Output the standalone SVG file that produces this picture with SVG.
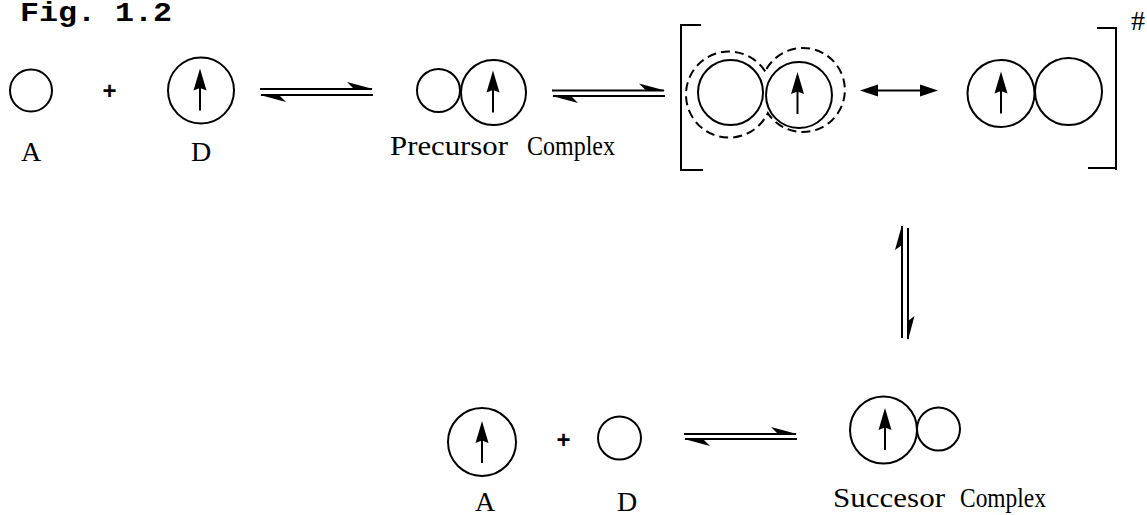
<svg xmlns="http://www.w3.org/2000/svg" xmlns:xlink="http://www.w3.org/1999/xlink" width="1147" height="515" viewBox="0 0 1147 515">
  <style>
    .mol { fill: none; stroke: #000; stroke-width: 2; }
    .shell { fill: none; stroke: #000; stroke-width: 2; stroke-dasharray: 9 5; }
    .line { fill: none; stroke: #000; stroke-width: 2; }
    .barb { fill: #000; stroke: none; }
    .lbl { font-family: "Liberation Serif", "Times New Roman", serif; font-size: 28px; fill: #000; }
    .plus { font-family: "Liberation Sans", Arial, sans-serif; font-weight: bold; font-size: 24px; fill: #000; text-anchor: middle; }
    .title { font-family: "Liberation Mono", "Courier New", monospace; font-weight: bold; font-size: 28px; fill: #000; }
  </style>
  <defs>
    <!-- spin arrow drawn inside a molecule, origin at the circle centre -->
    <g id="spin">
      <line x1="0" y1="-3" x2="0" y2="20" stroke="#000" stroke-width="2"/>
      <path d="M0,-22 L-6.5,0 L0,-2.5 L6.5,0 Z" fill="#000"/>
    </g>
  </defs>

  <rect width="1147" height="515" fill="#fff"/>

  <text id="title" class="title" x="20" y="21" textLength="152" lengthAdjust="spacingAndGlyphs">Fig. 1.2</text>

  <!-- reactants -->
  <g id="acceptor-1">
    <circle class="mol" cx="31" cy="90.5" r="21"/>
    <text class="lbl" x="31" y="161" text-anchor="middle">A</text>
  </g>
  <text id="plus-1" class="plus" x="109.5" y="99">+</text>
  <g id="donor-1">
    <circle class="mol" cx="201" cy="90.5" r="33"/>
    <use xlink:href="#spin" x="200" y="90.5"/>
    <text class="lbl" x="201" y="161" text-anchor="middle">D</text>
  </g>

  <!-- precursor complex -->
  <g id="precursor">
    <circle class="mol" cx="438.5" cy="90.5" r="21.5"/>
    <circle class="mol" cx="493.5" cy="92.5" r="32.5"/>
    <use xlink:href="#spin" x="493" y="92.5"/>
    <text class="lbl" y="155"><tspan x="390" textLength="118" lengthAdjust="spacingAndGlyphs">Precursor</tspan><tspan x="527" textLength="88" lengthAdjust="spacingAndGlyphs">Complex</tspan></text>
  </g>

  <!-- transition state -->
  <g id="transition-state">
    <path class="line" d="M701,25 H681 V170 H703"/>
    <path class="line" d="M1097,28 H1116 V170 M1116,168 H1088"/>
    <text x="1131" y="30" font-family="Liberation Serif, serif" font-size="28">#</text>
    <path class="shell" d="M765.2,71.4 A43,43 0 1 0 767.8,113.1 A42,42 0 1 0 765.2,71.4 Z"/>
    <circle class="mol" cx="730.5" cy="92.5" r="32.5"/>
    <circle class="mol" cx="799" cy="95" r="33"/>
    <use xlink:href="#spin" x="797.5" y="94"/>
    <circle class="mol" cx="1001" cy="93.5" r="33.5"/>
    <use xlink:href="#spin" x="1001" y="93.5"/>
    <circle class="mol" cx="1068.5" cy="91.5" r="33.5"/>
  </g>

  <!-- successor complex -->
  <g id="successor">
    <circle class="mol" cx="883.5" cy="430" r="33.5"/>
    <use xlink:href="#spin" x="885" y="430"/>
    <circle class="mol" cx="938.5" cy="429" r="21.5"/>
    <text class="lbl" y="507"><tspan x="833" textLength="112" lengthAdjust="spacingAndGlyphs">Succesor</tspan><tspan x="960" textLength="86" lengthAdjust="spacingAndGlyphs">Complex</tspan></text>
  </g>

  <!-- products -->
  <g id="acceptor-2">
    <circle class="mol" cx="482" cy="442" r="34"/>
    <use xlink:href="#spin" x="482" y="443"/>
    <text class="lbl" x="485" y="511" text-anchor="middle">A</text>
  </g>
  <text id="plus-2" class="plus" x="563.5" y="448">+</text>
  <g id="donor-2">
    <circle class="mol" cx="619.5" cy="438" r="21.5"/>
    <text class="lbl" x="627" y="511" text-anchor="middle">D</text>
  </g>

  <!-- equilibrium and resonance arrows -->
  <g id="connectors">
    <line class="line" x1="260" y1="89" x2="372" y2="89"/>
    <polygon class="barb" points="373,89 347,82 354,89"/>
    <line class="line" x1="261" y1="95" x2="373" y2="95"/>
    <polygon class="barb" points="260,95 286,102 279,95"/>

    <line class="line" x1="552" y1="90.5" x2="664" y2="90.5"/>
    <polygon class="barb" points="665,90.5 639,83.5 646,90.5"/>
    <line class="line" x1="553" y1="96" x2="665" y2="96"/>
    <polygon class="barb" points="552,96 578,103 571,96"/>

    <line class="line" x1="870" y1="90.5" x2="928" y2="90.5"/>
    <polygon class="barb" points="860,90.5 878,84.5 878,96.5"/>
    <polygon class="barb" points="938,90.5 920,84.5 920,96.5"/>

    <line class="line" x1="902" y1="226" x2="902" y2="338"/>
    <polygon class="barb" points="902,225 895,250 902,245"/>
    <line class="line" x1="908" y1="228" x2="908" y2="339"/>
    <polygon class="barb" points="908,340 914.5,316 908,321"/>

    <line class="line" x1="684" y1="434" x2="796" y2="434"/>
    <polygon class="barb" points="797,434 771,427 778,434"/>
    <line class="line" x1="685" y1="439" x2="797" y2="439"/>
    <polygon class="barb" points="684,439 710,446 703,439"/>
  </g>
</svg>
